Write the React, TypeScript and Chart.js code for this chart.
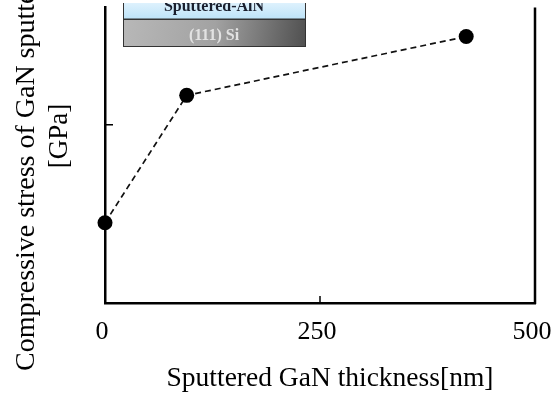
import React, { useEffect, useRef } from "react";
import Chart from "chart.js/auto";

// ---- data ----
const thicknessNm = [0, 95, 420];
const stressGPa = [0.45, 1.165, 1.495];
const xTickValues = [0, 250, 500];
const yTickMarks = [1];
const xTitle = "Sputtered GaN thickness[nm]";
const yTitleLines = ["Compressive stress of GaN sputtered film", "[GPa]"];
const insetLayers = ["Sputtered-AlN", "(111) Si"];

const SERIF = "'Liberation Serif', 'Times New Roman', serif";

const decorPlugin = {
  id: "decor",
  afterDraw(chart: any) {
    const ctx = chart.ctx as CanvasRenderingContext2D;
    const { left, right, top, bottom } = chart.chartArea;
    const xs = chart.scales.x;
    const ys = chart.scales.y;
    ctx.save();
    // right frame line
    ctx.strokeStyle = "#000";
    ctx.lineWidth = 2.5;
    ctx.beginPath();
    ctx.moveTo(right, top);
    ctx.lineTo(right, bottom + 1);
    ctx.stroke();
    // inward ticks
    ctx.lineWidth = 1.5;
    yTickMarks.forEach((v) => {
      const y = ys.getPixelForValue(v);
      ctx.beginPath();
      ctx.moveTo(left, y);
      ctx.lineTo(left + 8, y);
      ctx.stroke();
    });
    xTickValues.forEach((v) => {
      const x = xs.getPixelForValue(v);
      ctx.beginPath();
      ctx.moveTo(x, bottom);
      ctx.lineTo(x, bottom - 7);
      ctx.stroke();
    });

    // y title (two lines, rotated)
    ctx.fillStyle = "#000";
    ctx.textBaseline = "alphabetic";
    ctx.save();
    ctx.font = `28px ${SERIF}`;
    ctx.translate(34, 371);
    ctx.rotate(-Math.PI / 2);
    ctx.textAlign = "left";
    ctx.fillText(yTitleLines[0], 0, 0);
    ctx.restore();
    ctx.save();
    ctx.font = `27px ${SERIF}`;
    ctx.translate(67, 136);
    ctx.rotate(-Math.PI / 2);
    ctx.textAlign = "center";
    ctx.fillText(yTitleLines[1], 0, 0);
    ctx.restore();

    // x title
    ctx.font = `27.5px ${SERIF}`;
    ctx.textAlign = "center";
    ctx.fillText(xTitle, 330, 386);

    // inset (layer stack picture), cut at the top like the source figure
    const ix = 123, iw = 182;
    ctx.save();
    ctx.beginPath();
    ctx.rect(0, 3, 560, 60);
    ctx.clip();
    const g1 = ctx.createLinearGradient(0, 0, 0, 19);
    g1.addColorStop(0, "#e4f4fe");
    g1.addColorStop(1, "#bde3f8");
    ctx.fillStyle = g1;
    ctx.fillRect(ix, -6, iw, 25);
    const g2 = ctx.createLinearGradient(ix, 19, ix + iw, 47);
    g2.addColorStop(0, "#b8b8b8");
    g2.addColorStop(0.5, "#a2a2a2");
    g2.addColorStop(1, "#505050");
    ctx.fillStyle = g2;
    ctx.fillRect(ix, 19, iw, 28);
    ctx.strokeStyle = "#333";
    ctx.lineWidth = 1;
    ctx.strokeRect(ix + 0.5, -6, iw, 25);
    ctx.strokeRect(ix + 0.5, 19.5, iw, 27);
    ctx.font = `bold 16px ${SERIF}`;
    ctx.fillStyle = "#1a1f2e";
    ctx.fillText(insetLayers[0], ix + iw / 2, 11);
    ctx.fillStyle = "#e2e2e2";
    ctx.fillText(insetLayers[1], ix + iw / 2, 39.5);
    ctx.restore();
    ctx.restore();
  },
};

export default function App() {
  const ref = useRef<HTMLCanvasElement | null>(null);
  useEffect(() => {
    if (!ref.current) return;
    const chart = new Chart(ref.current, {
      type: "scatter",
      data: {
        datasets: [
          {
            data: thicknessNm.map((x, i) => ({ x, y: stressGPa[i] })),
            showLine: true,
            borderColor: "#111",
            borderWidth: 1.7,
            borderDash: [6, 4],
            pointRadius: 7.5,
            pointBackgroundColor: "#000",
            pointBorderColor: "#000",
            pointBorderWidth: 0,
            clip: false,
          } as any,
        ],
      },
      options: {
        responsive: false,
        animation: false,
        devicePixelRatio: 1,
        layout: { padding: { top: 7, right: 25, left: 0, bottom: 0 } },
        plugins: { legend: { display: false }, tooltip: { enabled: false } },
        scales: {
          x: {
            type: "linear",
            min: 0,
            max: 500,
            afterFit: (s: any) => {
              s.height = 94;
              s.paddingLeft = 0;
              s.paddingRight = 0;
            },
            afterBuildTicks: (s: any) => {
              s.ticks = xTickValues.map((v) => ({ value: v }));
            },
            grid: { display: false, drawTicks: false },
            border: { display: true, color: "#000", width: 2.5 },
            ticks: {
              padding: 14,
              labelOffset: -3,
              color: "#000",
              font: { family: SERIF, size: 26 },
              maxRotation: 0,
            },
          },
          y: {
            type: "linear",
            min: 0,
            max: 1.658,
            afterFit: (s: any) => {
              s.width = 105;
              s.paddingTop = 0;
              s.paddingBottom = 0;
            },
            grid: { display: false, drawTicks: false },
            border: { display: true, color: "#000", width: 2.5 },
            ticks: { display: false },
          },
        },
      },
      plugins: [decorPlugin],
    });
    return () => chart.destroy();
  }, []);
  return (
    <div style={{ position: "fixed", left: 0, top: 0, width: 560, height: 397 }}>
      <canvas ref={ref} width={560} height={397} />
    </div>
  );
}
